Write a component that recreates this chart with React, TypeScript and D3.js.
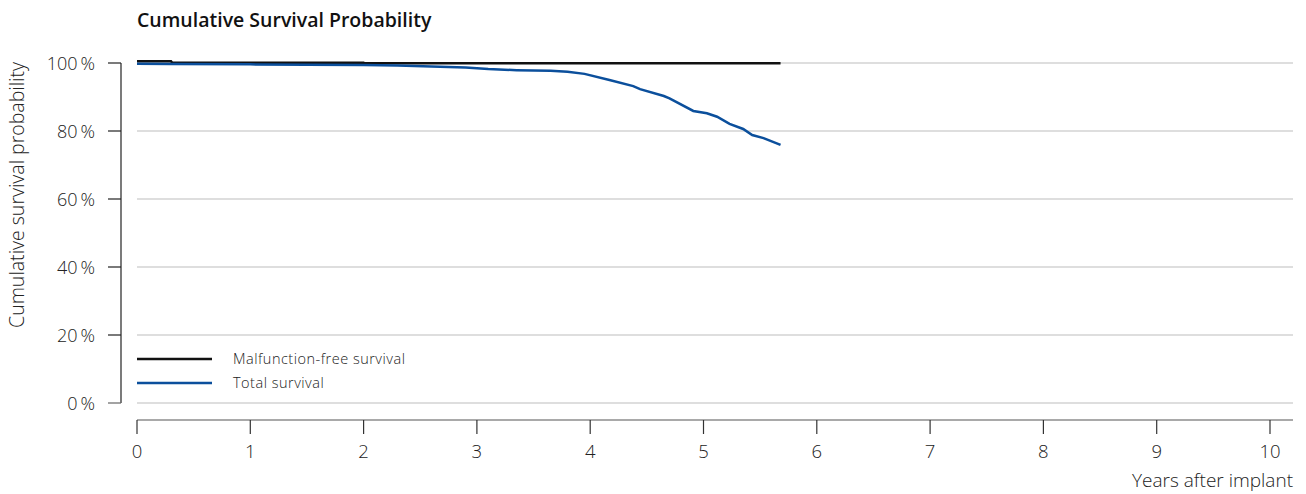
import React from "react";
import * as d3 from "d3";

const yearTicks = [0, 1, 2, 3, 4, 5, 6, 7, 8, 9, 10];
const percentTicks = [0, 20, 40, 60, 80, 100];

const malfunctionYears = [0, 0.3, 0.31, 2.0, 2.01, 5.68];
const malfunctionValues = [100.5, 100.5, 100.1, 100.1, 99.9, 99.9];

const totalYears = [0, 0.3, 1.0, 1.5, 2.0, 2.3, 2.6, 2.9, 3.1, 3.35, 3.65, 3.8, 3.95, 4.17, 4.38, 4.44, 4.65, 4.7, 4.91, 5.03, 5.12, 5.23, 5.35, 5.43, 5.53, 5.68];
const totalValues = [99.8, 99.7, 99.6, 99.5, 99.4, 99.3, 99.0, 98.7, 98.2, 97.9, 97.7, 97.4, 96.8, 95.0, 93.2, 92.3, 90.3, 89.6, 85.9, 85.2, 84.2, 82.1, 80.6, 78.8, 77.9, 75.9];

const seriesNames = ["Malfunction-free survival", "Total survival"];
const seriesColors = ["#111111", "#0b4f9c"];

export default function App() {
  const x = d3.scaleLinear().domain([0, 10]).range([137, 1270]);
  const y = d3.scaleLinear().domain([0, 100]).range([403, 63]);
  const line = d3
    .line<[number, number]>()
    .x((d) => x(d[0]))
    .y((d) => y(d[1]))
    .curve(d3.curveLinear);
  const mData = malfunctionYears.map((t, i) => [t, malfunctionValues[i]] as [number, number]);
  const tData = totalYears.map((t, i) => [t, totalValues[i]] as [number, number]);
  const font = "'Open Sans', 'Noto Sans', sans-serif";
  return (
    <svg
      width={1306}
      height={494}
      style={{ position: "absolute", left: 0, top: 0, display: "block", background: "#fff" }}
      fontFamily={font}
    >
      <text x={137} y={27} fontSize={19.5} fontWeight={600} fill="#111">
        Cumulative Survival Probability
      </text>
      {percentTicks.map((p) => (
        <line key={"g" + p} x1={137} x2={1293} y1={y(p)} y2={y(p)} stroke="#bdbdbd" strokeWidth={1} />
      ))}
      <line x1={121} x2={121} y1={y(100)} y2={y(0)} stroke="#222" strokeWidth={1.2} />
      {percentTicks.map((p) => (
        <g key={"yt" + p}>
          <line x1={108} x2={121} y1={y(p)} y2={y(p)} stroke={p === 0 ? "#666" : "#222"} strokeWidth={1.2} />
          <text x={95} y={y(p) + 6.5} textAnchor="end" fontSize={18} fontWeight={300} fill="#222">
            {p + "\u2009%"}
          </text>
        </g>
      ))}
      <text
        transform={`translate(24, ${(y(0) + y(100)) / 2 - 38}) rotate(-90)`}
        textAnchor="middle"
        fontSize={19.5}
        fontWeight={300}
        fill="#222"
      >
        Cumulative survival probability
      </text>
      <line x1={137} x2={1293} y1={420} y2={420} stroke="#555" strokeWidth={1.2} />
      {yearTicks.map((t) => (
        <g key={"xt" + t}>
          <line x1={x(t)} x2={x(t)} y1={420} y2={434} stroke="#333" strokeWidth={1.2} />
          <text x={x(t)} y={458} textAnchor="middle" fontSize={18.5} fontWeight={300} fill="#222">
            {t}
          </text>
        </g>
      ))}
      <text x={1293} y={487} textAnchor="end" fontSize={19} fontWeight={300} fill="#222">
        Years after implant
      </text>
      <path d={line(mData) || ""} fill="none" stroke={seriesColors[0]} strokeWidth={2.5} />
      <path d={line(tData) || ""} fill="none" stroke={seriesColors[1]} strokeWidth={2.5} />
      {seriesNames.map((n, i) => (
        <g key={n}>
          <line x1={137} x2={212} y1={359 + i * 24} y2={359 + i * 24} stroke={seriesColors[i]} strokeWidth={2.5} />
          <text x={233} y={364 + i * 24} fontSize={14.5} fontWeight={300} fill="#222" letterSpacing={0.5}>
            {n}
          </text>
        </g>
      ))}
    </svg>
  );
}
